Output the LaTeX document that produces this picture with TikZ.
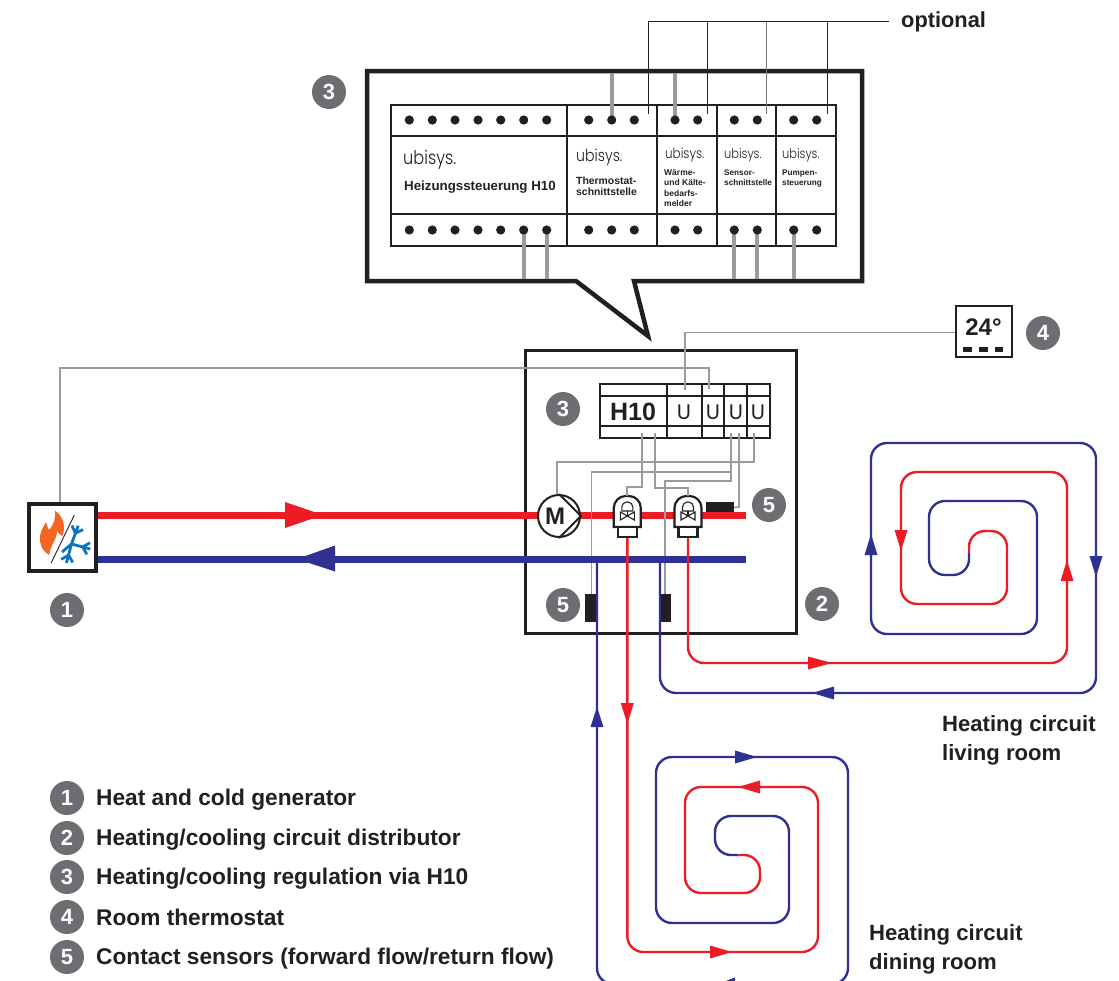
\documentclass[tikz,border=0pt]{standalone}
\usepackage{fontspec}
\setmainfont{Liberation Sans}
\newfontfamily\logofont[FakeStretch=0.85]{Poppins Light}
\newfontfamily\ufont{Poppins}
\definecolor{pipered}{HTML}{ED1C24}
\definecolor{pipeblue}{HTML}{2E3192}
\definecolor{wiregray}{HTML}{9A9B9E}
\definecolor{dotgray}{HTML}{6D6E71}
\definecolor{boxblack}{HTML}{231F20}
\definecolor{flameorange}{HTML}{F26522}
\definecolor{flakeblue}{HTML}{0B75BC}
\tikzstyle{numdot}=[circle, fill=dotgray, text=white, inner sep=0pt, minimum size=34pt, font=\fontsize{22}{22}\selectfont\bfseries]
\tikzstyle{lbl}=[anchor=west, inner sep=0pt, align=left, text=boxblack, font=\fontsize{22.7}{29}\selectfont\bfseries]
\tikzstyle{roomlbl}=[lbl, font=\fontsize{22.1}{29}\selectfont\bfseries]
\tikzstyle{smalltxt}=[anchor=north west, inner sep=0pt, align=left, text=boxblack]
\tikzstyle{logo}=[anchor=west, inner sep=0pt, text=boxblack]
\tikzstyle{ulogo}=[inner sep=0pt, text=boxblack, font=\ufont\fontsize{21}{21}\selectfont]
\tikzstyle{thinwire}=[draw=wiregray, line width=1.8pt]
\tikzstyle{thickwire}=[draw=wiregray, line width=4pt]
\tikzstyle{sensor}=[fill=boxblack, inner sep=0pt]
\tikzstyle{redpipe}=[draw=pipered, line width=2.4pt, rounded corners=16pt]
\tikzstyle{bluepipe}=[draw=pipeblue, line width=2.4pt, rounded corners=16pt]

\begin{document}
\begin{tikzpicture}[x=1pt, y=-1pt]
\useasboundingbox (0,0) rectangle (1119,980);

%callout
\draw[line width=4.5pt, draw=boxblack, miter limit=10] (367,71) -- (862,71) -- (862,281) -- (634,281) -- (648,336) -- (576,281) -- (367,281) -- cycle;

%module rail
\draw[line width=2pt, draw=boxblack] (391,105) rectangle (836,246);
\draw[line width=2pt, draw=boxblack] (391,136) -- (836,136);
\draw[line width=2pt, draw=boxblack] (391,214) -- (836,214);
\draw[line width=2pt, draw=boxblack] (567,105) -- (567,246);
\draw[line width=2pt, draw=boxblack] (657,105) -- (657,246);
\draw[line width=2pt, draw=boxblack] (717,105) -- (717,246);
\draw[line width=2pt, draw=boxblack] (776,105) -- (776,246);

%wires through the callout
\draw[thickwire] (611.7,73) -- (611.7,120);
\draw[thickwire] (675,73) -- (675,120);
\draw[thickwire] (523.7,230) -- (523.7,279);
\draw[thickwire] (546.7,230) -- (546.7,279);
\draw[thickwire] (734.3,230) -- (734.3,279);
\draw[thickwire] (757.3,230) -- (757.3,279);
\draw[thickwire] (793.7,230) -- (793.7,279);

%terminals
\foreach \tx in {409.3,432.3,455,478,500.7,523.7,546.7,588.7,611.7,634.3,675,697.7,734.3,757.3,793.7,816.7}{
\fill[boxblack] (\tx,120) circle (4.6);
\fill[boxblack] (\tx,230) circle (4.6);
}

%optional wires
\node[lbl, font=\fontsize{21.8}{24}\selectfont\bfseries] (optional) at (901,21.5) {optional};
\coordinate (optend) at (889,21.5);
\draw[line width=1.2pt, draw=boxblack] (optend) -- (648.3,21.5) -- (648.3,114);
\draw[line width=1.2pt, draw=boxblack] (707.3,21.5) -- (707.3,114);
\draw[line width=1.2pt, draw=boxblack!60] (766.3,21.5) -- (766.3,114);
\draw[line width=1.2pt, draw=boxblack] (827.3,21.5) -- (827.3,114);

%module texts
\node[logo, font=\logofont\fontsize{19}{19}\selectfont] (logoa) at (403,160) {ubisys.};
\node[logo, font=\logofont\fontsize{16.6}{16.6}\selectfont] (logob) at (576,157) {ubisys.};
\node[logo, font=\logofont\fontsize{14}{14}\selectfont] (logoc) at (665,155) {ubisys.};
\node[logo, font=\logofont\fontsize{13.4}{13.4}\selectfont] (logod) at (724,155) {ubisys.};
\node[logo, font=\logofont\fontsize{13.4}{13.4}\selectfont] (logoe) at (782,155) {ubisys.};
\node[logo, font=\fontsize{13.3}{13.3}\selectfont\bfseries] (hzname) at (404,187) {Heizungssteuerung H10};
\node[smalltxt, font=\fontsize{10.4}{11}\selectfont\bfseries] (thname) at (576,177) {Thermostat-\\schnittstelle};
\node[smalltxt, font=\fontsize{8.5}{10.5}\selectfont\bfseries] (wkname) at (664,169) {Wärme-\\und Kälte-\\bedarfs-\\melder};
\node[smalltxt, font=\fontsize{8.2}{10}\selectfont\bfseries] (sename) at (724,170) {Sensor-\\schnittstelle};
\node[smalltxt, font=\fontsize{8.2}{10}\selectfont\bfseries] (puname) at (782,170) {Pumpen-\\steuerung};

%small H10 unit
\draw[line width=1.6pt, draw=boxblack] (600,384) rectangle (770,438);
\draw[line width=1.6pt, draw=boxblack] (600,396) -- (770,396);
\draw[line width=1.6pt, draw=boxblack] (600,426) -- (770,426);
\draw[line width=1.6pt, draw=boxblack] (667,384) -- (667,438);
\draw[line width=1.6pt, draw=boxblack] (702,384) -- (702,438);
\draw[line width=1.6pt, draw=boxblack] (724,384) -- (724,438);
\draw[line width=1.6pt, draw=boxblack] (747,384) -- (747,438);
\node[text=boxblack, font=\fontsize{25}{25}\selectfont\bfseries, inner sep=0pt] (hten) at (633,412) {H10};
\node[ulogo] (ua) at (684,412) {U};
\node[ulogo] (ub) at (713,412) {U};
\node[ulogo] (uc) at (736,412) {U};
\node[ulogo] (ud) at (758,412) {U};

%distributor box
\draw[line width=3pt, draw=boxblack] (525,350) rectangle (796,633);

%sensors
\node[sensor, minimum width=28pt, minimum height=11pt] (senstop) at (720,507.5) {};
\node[sensor, minimum width=11pt, minimum height=28pt] (sensa) at (590.5,608) {};
\node[sensor, minimum width=11pt, minimum height=28pt] (sensb) at (665.5,608) {};

%generator
\node[draw=boxblack, line width=3.5pt, minimum size=67pt, inner sep=0pt, fill=white] (gen) at (62.5,537.5) {};
\fill[flameorange] (49.3,555) .. controls (42,551) and (39,543) .. (40,536) .. controls (41,530) and (44,526) .. (46,522) .. controls (47,526) and (48,528) .. (49,530) .. controls (54,525) and (56,517) .. (55,510.5) .. controls (60,514) and (64,520) .. (64,527) .. controls (64,532) and (63,535) .. (62,536) .. controls (60,535) and (58,532) .. (57,531) .. controls (57,540) and (50,545) .. (49.3,555) -- cycle;%flame
\draw[line width=0.9pt, draw=boxblack] (74.3,515) -- (51,563.3);
\foreach \ang in {70,-15,-105}{
\draw[line width=2.8pt, draw=flakeblue, rotate around={\ang:(71.5,544)}] (71.5,544) -- (91,544) (83,544) -- (89,538) (83,544) -- (89,550);
}
\draw[line width=2.8pt, draw=flakeblue] (71.5,544) -- (62,552);

%thermostat
\node[draw=boxblack, line width=2.5pt, minimum width=56pt, minimum height=51pt, inner sep=0pt] (therm) at (984,331.5) {};
\node[text=boxblack, font=\fontsize{24}{24}\selectfont\bfseries, inner sep=0pt] (tval) at (983.5,327.5) {24°};
\draw[line width=5pt, draw=boxblack] (963,349) -- (972,349);
\draw[line width=5pt, draw=boxblack] (979,349) -- (988,349);
\draw[line width=5pt, draw=boxblack] (995,349) -- (1003,349);

%forward pipe
\draw[draw=pipered, line width=7pt] (gen.east |- 0,515) -- (746,515);
\fill[pipered] (285,502) -- (323,515) -- (285,528) -- cycle;

%thin wires
\coordinate (tuA) at (685,390);
\coordinate (tuB) at (709,389);
\coordinate (tbA) at (642,433);
\coordinate (tbB) at (655,433);
\coordinate (tbC) at (731,433);
\coordinate (tbD) at (739,433);
\coordinate (tbE) at (754,433);
\draw[thinwire] (therm.west |- 0,332.5) -- (685,332.5) -- (tuA);
\draw[thinwire] (gen.north -| 60,0) -- (60,368) -- (709,368) -- (tuB);
\draw[thinwire] (tbE) -- (754,462) -- (557,462) -- (557,495);
\draw[thinwire] (tbC) -- (731,472) -- (591.5,472) -- (sensa.north -| 591.5,0);
\draw[thinwire] (tbC) -- (731,481) -- (665,481) -- (sensb.north -| 665,0);
\draw[thinwire] (tbD) -- (739,507) -- (senstop.east);

%return pipe
\draw[draw=pipeblue, line width=7pt] (gen.east |- 0,559) -- (746,559);
\fill[pipeblue] (335,545.5) -- (297,559) -- (335,571.5) -- cycle;

%pump
\node[draw=boxblack, line width=2pt, circle, fill=white, minimum size=42pt, inner sep=0pt] (pump) at (559,516) {};
\draw[line width=2pt, draw=boxblack] (pump.north) -- (pump.east) -- (pump.south);
\node[text=boxblack, font=\fontsize{24}{24}\selectfont\bfseries, inner sep=0pt] (mlabel) at (555,516) {M};

%valves
\foreach \vx/\vn in {627.3/valvea,688/valveb}{
\begin{scope}[xshift=\vx pt]
\draw[line width=2.2pt, draw=boxblack, fill=white] (-13.5,527) [rounded corners=12pt] -- (-13.5,496) -- (13.5,496) [sharp corners] -- (13.5,527) -- cycle;
\draw[line width=2.2pt, draw=boxblack, fill=white] (-9.5,527) rectangle (9.5,537);
\draw[line width=1.1pt, draw=boxblack] (-5.5,511) [rounded corners=5pt] -- (-5.5,502) -- (5.5,502) [sharp corners] -- (5.5,511) -- cycle;
\draw[line width=1.1pt, draw=boxblack] (0,511) -- (0,516);
\draw[line width=1.1pt, draw=boxblack] (-7,512) -- (7,520) -- (7,512) -- (-7,520) -- cycle;
\coordinate (\vn) at (0,496);
\coordinate (\vn b) at (0,537);
\end{scope}
}
\draw[thinwire] (tbA) -- (642,487) -- (627.3,487) -- (valvea);
\draw[thinwire] (tbB) -- (655,488) -- (688,488) -- (valveb);

%living room circuit
\draw[redpipe] (valveb) ++(0,42) -- (688,663) -- (1067,663) -- (1067,472) -- (901,472) -- (901,604) -- (1007,604) -- (1007,531) -- (969,531) -- (969,553);
\draw[bluepipe] (969,553) -- (969,575) -- (929,575) -- (929,501) -- (1037,501) -- (1037,634) -- (871,634) -- (871,443) -- (1096,443) -- (1096,693) -- (660,693) -- (660,559);
\fill[pipeblue] (871,534) -- (864.5,555) -- (877.5,555) -- cycle;
\fill[pipered] (901,551) -- (894.5,530) -- (907.5,530) -- cycle;
\fill[pipered] (1067,560) -- (1060.5,581) -- (1073.5,581) -- cycle;
\fill[pipeblue] (1096,577) -- (1089.5,556) -- (1102.5,556) -- cycle;
\fill[pipered] (832,663) -- (808,656.5) -- (808,669.5) -- cycle;
\fill[pipeblue] (812,693) -- (834,686.5) -- (834,699.5) -- cycle;

%dining room circuit
\draw[redpipe] (valvea) ++(0,42) -- (627.3,952) -- (818,952) -- (818,787) -- (685,787) -- (685,893) -- (760,893) -- (760,855) -- (737,855);
\draw[bluepipe] (737,855) -- (715,855) -- (715,816) -- (789,816) -- (789,923) -- (656,923) -- (656,757) -- (848,757) -- (848,984) -- (597,984) -- (597,559);
\fill[pipeblue] (597,707) -- (590.5,727) -- (603.5,727) -- cycle;
\fill[pipered] (627.3,724) -- (620.8,703) -- (633.8,703) -- cycle;
\fill[pipeblue] (757,757) -- (735,750.5) -- (735,763.5) -- cycle;
\fill[pipered] (738,787) -- (760,780.5) -- (760,793.5) -- cycle;
\fill[pipered] (732,952) -- (710,945.5) -- (710,958.5) -- cycle;
\fill[pipeblue] (718,984) -- (735,977.5) -- (735,990.5) -- cycle;

%numbers
\node[numdot] (nthree) at (329,92) {3};
\node[numdot] (nthreeb) at (563,409) {3};
\node[numdot] (nfour) at (1043,333) {4};
\node[numdot] (nfive) at (769,505) {5};
\node[numdot] (nfiveb) at (563,605) {5};
\node[numdot] (ntwo) at (822,604) {2};
\node[numdot] (none) at (67,610) {1};

%legend
\node[numdot] (lone) at (67,798) {1};
\node[numdot] (ltwo) at (67,838) {2};
\node[numdot] (lthree) at (67,877) {3};
\node[numdot] (lfour) at (67,917) {4};
\node[numdot] (lfive) at (67,957) {5};
\node[lbl] (tone) at (96,799.5) {Heat and cold generator};
\node[lbl] (ttwo) at (96,839.5) {Heating/cooling circuit distributor};
\node[lbl] (tthree) at (96,878.5) {Heating/cooling regulation via H10};
\node[lbl] (tfour) at (96,917.5) {Room thermostat};
\node[lbl] (tfive) at (96,958.5) {Contact sensors (forward flow/return flow)};
\node[roomlbl] (living) at (942,740) {Heating circuit\\living room};
\node[roomlbl] (dining) at (869,949) {Heating circuit\\dining room};
\end{tikzpicture}
\end{document}
